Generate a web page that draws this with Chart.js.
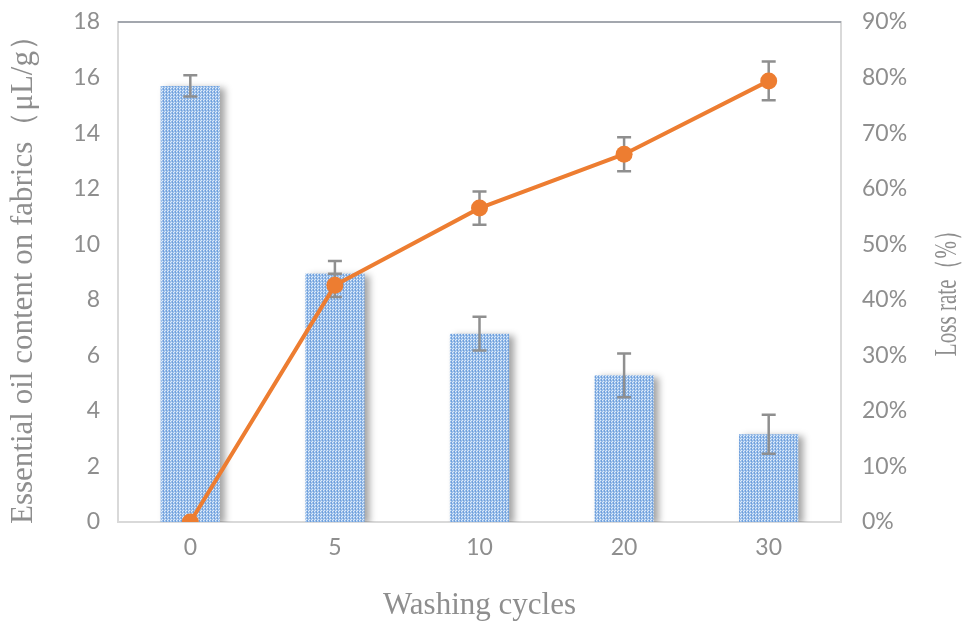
<!DOCTYPE html>
<html>
<head>
<meta charset="utf-8">
<script src="https://cdn.jsdelivr.net/npm/chart.js@4"></script>
<style>
  html, body { margin: 0; padding: 0; background: #ffffff; }
  #wrap { width: 963px; height: 628px; }
</style>
</head>
<body>
<div id="wrap"><canvas id="chart" width="963" height="628"></canvas></div>
<script>
// Washing cycles on the category axis
const washCycles = ['0', '5', '10', '20', '30'];
// Essential oil content on fabrics (µL/g) and its standard deviation
const oilContent = [15.7, 8.95, 6.78, 5.28, 3.16];
const oilError = [0.38, 0.45, 0.61, 0.79, 0.70];
// Loss rate (%) and its standard deviation
const lossRate = [0, 42.6, 56.5, 66.2, 79.4];
const lossError = [0, 2.1, 3.0, 3.05, 3.5];
// Axis tick values
const contentTicks = [0, 2, 4, 6, 8, 10, 12, 14, 16, 18];
const rateTicks = [0, 10, 20, 30, 40, 50, 60, 70, 80, 90];
const rateTitle = 'Loss rate（%）';

const GRAY_TEXT = '#8e8e8e';
const AXIS_LINE = '#d9d9d9';
const ERR_COLOR = '#8f8f8f';
const ORANGE = '#ed7d31';

// Fine dotted blue fill used by the bars
function makeDotPattern() {
  const c = document.createElement('canvas');
  c.width = 3; c.height = 3;
  const g = c.getContext('2d');
  g.fillStyle = '#9bbfea';
  g.fillRect(0, 0, 3, 3);
  g.fillStyle = '#e0ecf9';
  g.fillRect(0, 0, 1, 1);
  g.fillRect(2, 1, 1, 1);
  g.fillStyle = '#6f9fdb';
  g.fillRect(1, 1, 1, 1);
  g.fillRect(1, 2, 1, 1);
  return g.createPattern(c, 'repeat');
}

const tickFont = { family: 'Lato, "Open Sans", sans-serif', size: 23 };
const titleFont = { family: '"Liberation Serif", "Times New Roman", serif', size: 31 };

// Keep the tick labels from pushing the plot edges inwards
function noEdgePadding(scale) {
  scale.paddingTop = 0;
  scale.paddingBottom = 0;
  scale.paddingLeft = 0;
  scale.paddingRight = 0;
}

// Soft shadow behind the bars, the error bars of both series,
// the top frame line and the right-hand axis title
const decorations = {
  id: 'decorations',
  beforeDatasetDraw(chart, args) {
    if (args.index === 0) {
      const ctx = chart.ctx;
      ctx.save();
      ctx.shadowColor = 'rgba(0,0,0,0.36)';
      ctx.shadowBlur = 7;
      ctx.shadowOffsetX = 5;
      ctx.shadowOffsetY = 2;
    }
  },
  afterDatasetDraw(chart, args) {
    if (args.index !== 0) return;
    const ctx = chart.ctx;
    ctx.restore();
    const x = chart.scales.x;
    const yL = chart.scales.y;
    const yR = chart.scales.y1;
    const cap = 7;
    ctx.save();
    ctx.strokeStyle = ERR_COLOR;
    ctx.lineWidth = 2.5;
    const drawErr = (px, top, bottom) => {
      ctx.beginPath();
      ctx.moveTo(px, top); ctx.lineTo(px, bottom);
      ctx.moveTo(px - cap, top); ctx.lineTo(px + cap, top);
      ctx.moveTo(px - cap, bottom); ctx.lineTo(px + cap, bottom);
      ctx.stroke();
    };
    washCycles.forEach((_, i) => {
      const px = x.getPixelForValue(i);
      if (oilError[i] > 0) {
        drawErr(px, yL.getPixelForValue(oilContent[i] + oilError[i]),
                    yL.getPixelForValue(oilContent[i] - oilError[i]));
      }
      if (lossError[i] > 0) {
        drawErr(px, yR.getPixelForValue(lossRate[i] + lossError[i]),
                    yR.getPixelForValue(lossRate[i] - lossError[i]));
      }
    });
    ctx.restore();
  },
  beforeDatasetsDraw(chart) {
    // darker frame line along the top of the plot
    const { ctx, chartArea } = chart;
    ctx.save();
    ctx.strokeStyle = '#a3a7ae';
    ctx.lineWidth = 2;
    ctx.beginPath();
    ctx.moveTo(chartArea.left, chartArea.top);
    ctx.lineTo(chartArea.right, chartArea.top);
    ctx.stroke();
    ctx.restore();
  },
  afterDraw(chart) {
    // right axis title, reading bottom-to-top, set in a condensed width
    const { ctx, chartArea } = chart;
    const axis = chart.scales.y1;
    ctx.save();
    ctx.translate(axis.right - 15, (chartArea.top + chartArea.bottom) / 2 + 16);
    ctx.rotate(-Math.PI / 2);
    ctx.scale(0.68, 1);
    ctx.font = titleFont.size + 'px ' + titleFont.family;
    ctx.fillStyle = GRAY_TEXT;
    ctx.textAlign = 'center';
    ctx.textBaseline = 'middle';
    ctx.fillText(rateTitle, 0, 0);
    ctx.restore();
  }
};

new Chart(document.getElementById('chart'), {
  data: {
    labels: washCycles,
    datasets: [
      {
        type: 'bar',
        label: 'Essential oil content',
        data: oilContent,
        yAxisID: 'y',
        backgroundColor: makeDotPattern(),
        borderWidth: 0,
        categoryPercentage: 1,
        barPercentage: 0.41,
        order: 2
      },
      {
        type: 'line',
        label: 'Loss rate',
        data: lossRate,
        yAxisID: 'y1',
        borderColor: ORANGE,
        backgroundColor: ORANGE,
        borderWidth: 4,
        pointRadius: 8.5,
        pointBorderWidth: 0,
        pointBackgroundColor: ORANGE,
        tension: 0,
        order: 1
      }
    ]
  },
  options: {
    responsive: false,
    animation: false,
    events: [],
    layout: { padding: { top: 22, left: 0, right: 0, bottom: 0 } },
    plugins: {
      legend: { display: false },
      tooltip: { enabled: false }
    },
    scales: {
      x: {
        grid: { display: false, drawTicks: false },
        border: { display: true, color: AXIS_LINE, width: 2 },
        ticks: { color: GRAY_TEXT, font: tickFont, padding: 12 },
        title: {
          display: true, text: 'Washing cycles', color: GRAY_TEXT, font: titleFont,
          padding: { top: 0, bottom: 4 }
        },
        afterFit(scale) { scale.height = 106; noEdgePadding(scale); }
      },
      y: {
        position: 'left',
        min: 0, max: 18,
        afterBuildTicks(scale) { scale.ticks = contentTicks.map(v => ({ value: v })); },
        grid: { display: false, drawTicks: false },
        border: { display: true, color: AXIS_LINE, width: 2 },
        ticks: { color: GRAY_TEXT, font: tickFont, padding: 18 },
        title: {
          display: true, text: 'Essential oil content on fabrics（μL/g）', color: GRAY_TEXT,
          font: titleFont, padding: { top: 5, bottom: 0 }
        },
        afterFit(scale) { scale.width = 118; noEdgePadding(scale); }
      },
      y1: {
        position: 'right',
        min: 0, max: 90,
        afterBuildTicks(scale) { scale.ticks = rateTicks.map(v => ({ value: v })); },
        grid: { display: false, drawTicks: false },
        border: { display: true, color: AXIS_LINE, width: 2 },
        ticks: { color: GRAY_TEXT, font: tickFont, padding: 21, callback: v => v + '%' },
        afterFit(scale) { scale.width = 122; noEdgePadding(scale); }
      }
    }
  },
  plugins: [decorations]
});
</script>
</body>
</html>
